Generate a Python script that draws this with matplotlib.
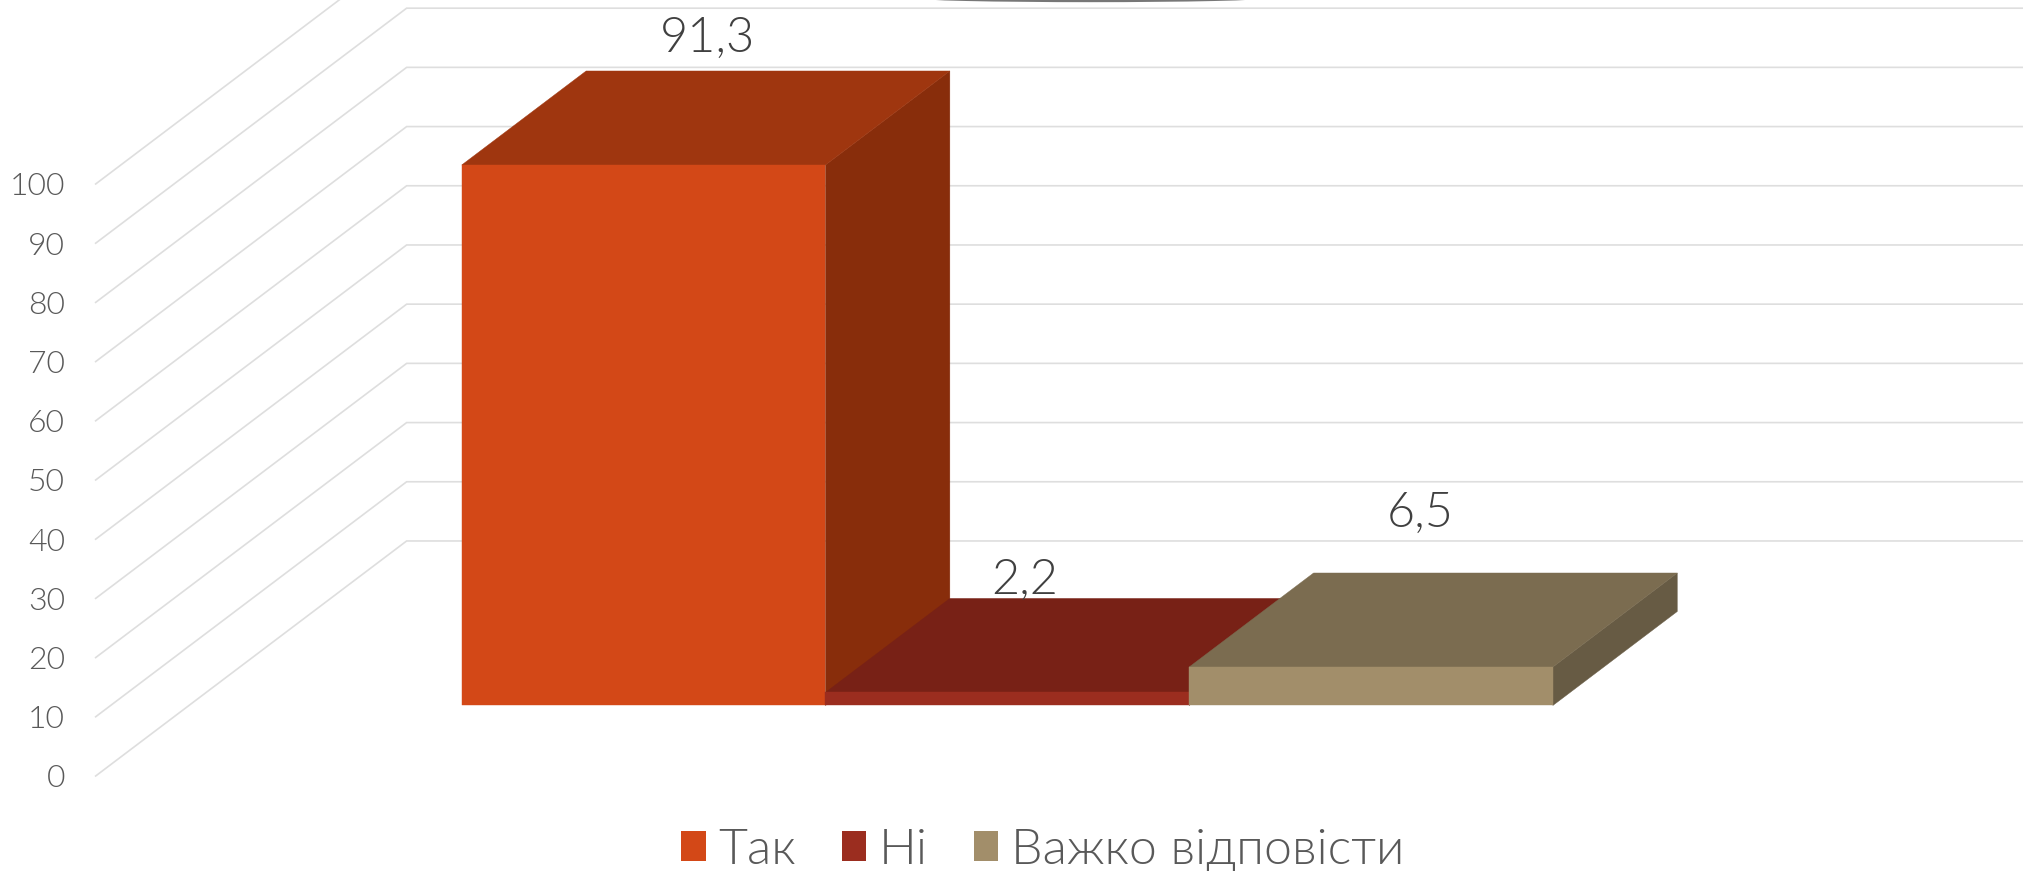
"""3D-look column chart (survey answer shares), drawn with a hand-made oblique projection."""

import matplotlib

matplotlib.use("Agg")
import matplotlib.pyplot as plt  # noqa: E402
from matplotlib.patches import Ellipse, Patch  # noqa: E402

plt.rcParams["font.family"] = ["Lato", "DejaVu Sans"]
plt.rcParams["font.weight"] = 300

CATEGORIES = ["Так", "Ні", "Важко відповісти"]
VALUES = [91.3, 2.2, 6.5]
VALUE_LABELS = ["91,3", "2,2", "6,5"]
Y_TICKS = list(range(0, 101, 10))

FRONT_COLORS = ["#D34817", "#9B2D1F", "#A28E6A"]
TOP_COLORS = ["#9F360F", "#782116", "#7B6C50"]
SIDE_COLORS = ["#882D0B", "#6C1D13", "#675B44"]
GRID_COLOR = "#DEDEDE"

# oblique projection: one unit of depth moves a point this far along x and y (data units)
DEPTH_X = 0.855
DEPTH_Y = 39.7
BAR_T = (0.30, 0.70)  # bars occupy this slice of the floor depth
FLOOR_X = (-1.25, 3.25)
LABEL_OFFSETS = [(2, 66), (-45, 52), (-13, 93)]  # pixels, from the centre of each top face


def project(x, v, t):
    return x + DEPTH_X * t, v + DEPTH_Y * t


def face(ax, corners, color, zorder):
    pts = [project(*c) for c in corners]
    ax.fill([p[0] for p in pts], [p[1] for p in pts], color=color, lw=0.3, zorder=zorder)


fig = plt.figure(figsize=(20.23, 8.71), dpi=100)
ax = fig.add_axes([0, 0, 1, 1])
ax.set_xlim(-1.513, 4.049)
ax.set_ylim(-16.05, 131.08)
for s in ax.spines.values():
    s.set_visible(False)
ax.set_xticks([])
ax.set_yticks(Y_TICKS)
ax.tick_params(axis="y", length=0, pad=-46.8, labelsize=23, labelcolor="#595959")

# floor rungs running back from the value labels, then across the back wall
for v in Y_TICKS:
    xs, ys = zip(project(FLOOR_X[0], v, 0), project(FLOOR_X[0], v, 1), project(FLOOR_X[1], v, 1))
    ax.plot(xs, ys, color=GRID_COLOR, lw=1.2, zorder=1, solid_joinstyle="miter")

t0, t1 = BAR_T
for i, (val, label) in enumerate(zip(VALUES, VALUE_LABELS)):
    left, right = i - 0.5, i + 0.5
    zo = 3 + i
    face(ax, [(right, 0, t0), (right, 0, t1), (right, val, t1), (right, val, t0)], SIDE_COLORS[i], zo)
    face(ax, [(left, val, t0), (right, val, t0), (right, val, t1), (left, val, t1)], TOP_COLORS[i], zo)
    face(ax, [(left, 0, t0), (right, 0, t0), (right, val, t0), (left, val, t0)], FRONT_COLORS[i], zo)
    ax.annotate(label, project(i, val, (t0 + t1) / 2), xytext=LABEL_OFFSETS[i],
                textcoords="offset pixels", ha="center", va="baseline",
                fontsize=35, color="#404040", zorder=10)

# sliver of a clipped shape along the top edge
ax.add_patch(Ellipse((0.539, 1.002), 0.172, 0.009, transform=ax.transAxes, color="#777777", lw=0))

handles = [Patch(color=c, lw=0) for c in FRONT_COLORS]
ax.legend(handles, CATEGORIES, ncol=3, loc="lower center", bbox_to_anchor=(0.5155, -0.002),
          frameon=False, fontsize=36, labelcolor="#595959", handlelength=0.49, handleheight=0.52,
          handletextpad=0.25, columnspacing=0.92, borderpad=0, borderaxespad=0)

fig.savefig("out.png", dpi=100)
